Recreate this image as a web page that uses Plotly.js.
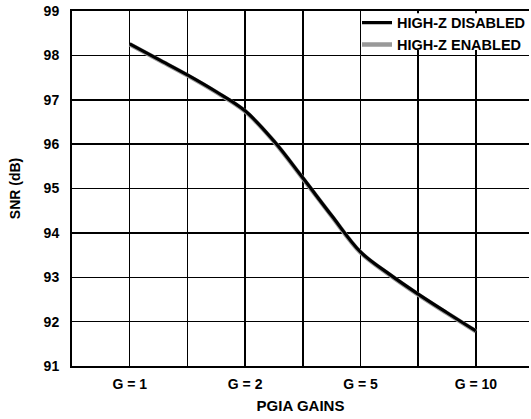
<!DOCTYPE html>
<html>
<head>
<meta charset="utf-8">
<script src="https://cdn.plot.ly/plotly-3.0.1.min.js"></script>
<style>html,body{margin:0;padding:0;background:#fff;}#chart{width:531px;height:419px;}</style>
</head>
<body>
<div id="chart"></div>
<script>
// Gain settings (category tick labels)
var categories = ['G = 1', 'G = 2', 'G = 5', 'G = 10'];
// Positions along the gain axis where the curve was read (0 = G = 1, 1 = G = 2, ...)
var gainIndex = [0, 0.25, 0.5, 0.75, 1, 1.25, 1.5, 1.75, 2, 2.25, 2.5, 2.75, 3];
// SNR (dB)
var snrHighZDisabled = [98.26, 97.91, 97.56, 97.18, 96.75, 96.07, 95.24, 94.39, 93.57, 93.07, 92.62, 92.20, 91.79];
var snrHighZEnabled  = [98.25, 97.90, 97.55, 97.17, 96.74, 96.06, 95.23, 94.38, 93.56, 93.06, 92.61, 92.19, 91.78];
var yTicks = [91, 92, 93, 94, 95, 96, 97, 98, 99];

var tickvals = [], ticktext = [];
for (var i = 0; i < categories.length; i++) {
  tickvals.push(i); ticktext.push(categories[i]);
  tickvals.push(i + 0.5); ticktext.push('');
}

var FONT = 'Liberation Sans, Arial, Helvetica, sans-serif';

var traces = [
  {x: gainIndex, y: snrHighZEnabled, mode: 'lines', name: 'HIGH-Z ENABLED',
   line: {color: '#999999', width: 4.5, shape: 'spline', smoothing: 1}},
  {x: gainIndex, y: snrHighZDisabled, mode: 'lines', name: 'HIGH-Z DISABLED',
   line: {color: '#000000', width: 3.2, shape: 'spline', smoothing: 1}}
];

var layout = {
  width: 531, height: 419,
  margin: {l: 72, r: 0, t: 11, b: 53},
  paper_bgcolor: '#fff', plot_bgcolor: '#fff',
  font: {family: FONT, color: '#000', size: 14, weight: 'bold'},
  showlegend: true,
  legend: {x: 1.005, xanchor: 'right', y: 1.012, yanchor: 'top', bgcolor: 'rgba(0,0,0,0)',
           borderwidth: 0, traceorder: 'reversed', itemwidth: 30,
           font: {family: FONT, size: 14.5, weight: 'bold', color: '#000'},
           tracegroupgap: 0},
  // white panel behind the legend (hides gridlines there, as in the original)
  shapes: [{type: 'rect', xref: 'paper', yref: 'paper', x0: 0.634, x1: 1, y0: 0.89, y1: 0.994,
            fillcolor: '#fff', line: {width: 0}, layer: 'above'}],
  xaxis: {
    range: [-0.5, 3.46], tickmode: 'array', tickvals: tickvals, ticktext: ticktext,
    showgrid: true, gridcolor: '#000', gridwidth: 1.5, zeroline: false,
    showline: true, linecolor: '#000', linewidth: 2, mirror: true,
    ticks: 'outside', ticklen: 4, tickcolor: 'rgba(0,0,0,0)',
    tickfont: {family: FONT, size: 14, weight: 'bold'},
    title: {text: 'PGIA GAINS', font: {family: FONT, size: 15, weight: 'bold'}, standoff: 10},
    fixedrange: true
  },
  yaxis: {
    range: [91, 99], tickmode: 'array', tickvals: yTicks,
    showgrid: true, gridcolor: '#000', gridwidth: 1.5, zeroline: false,
    showline: true, linecolor: '#000', linewidth: 2,
    ticks: 'outside', ticklen: 8, tickcolor: 'rgba(0,0,0,0)',
    tickfont: {family: FONT, size: 14, weight: 'bold'},
    title: {text: 'SNR (dB)', font: {family: FONT, size: 14, weight: 'bold'}, standoff: 20},
    fixedrange: true
  }
};

Plotly.newPlot('chart', traces, layout, {displayModeBar: false, staticPlot: true});
</script>
</body>
</html>
